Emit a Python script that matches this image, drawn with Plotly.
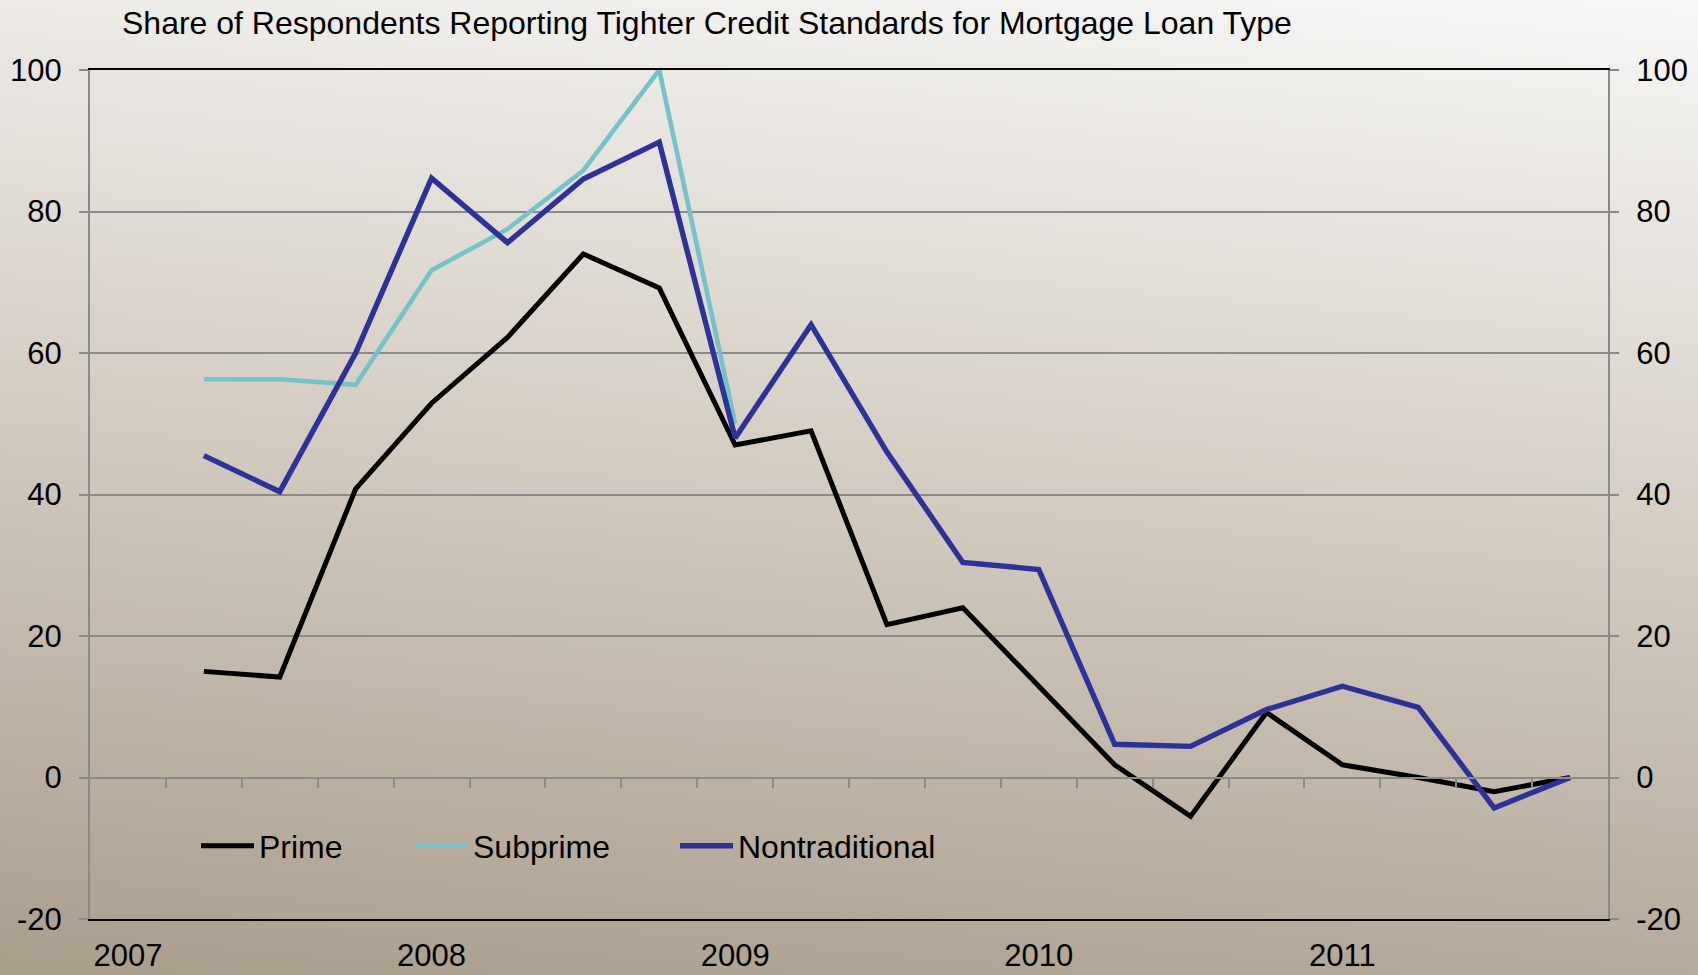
import base64
import plotly.graph_objects as go

# ---------------- data ----------------
quarters = ["2007Q1", "2007Q2", "2007Q3", "2007Q4",
            "2008Q1", "2008Q2", "2008Q3", "2008Q4",
            "2009Q1", "2009Q2", "2009Q3", "2009Q4",
            "2010Q1", "2010Q2", "2010Q3", "2010Q4",
            "2011Q1", "2011Q2", "2011Q3", "2011Q4"]
year_ticks = ["2007Q1", "2008Q1", "2009Q1", "2010Q1", "2011Q1"]
year_labels = ["2007", "2008", "2009", "2010", "2011"]

prime = [None, 15.0, 14.2, 40.8, 52.9, 62.2, 74.0, 69.2, 47.0, 49.0,
         21.6, 24.0, 12.9, 1.8, -5.5, 9.2, 1.8, 0.0, -2.0, 0.0]
subprime = [None, 56.3, 56.3, 55.5, 71.7, 77.5, 85.8, 100.0, 50.0, None,
            None, None, None, None, None, None, None, None, None, None]
nontraditional = [None, 45.5, 40.4, 60.0, 84.7, 75.6, 84.6, 89.8, 48.0, 64.0,
                  46.0, 30.4, 29.4, 4.7, 4.4, 9.6, 12.9, 9.9, -4.3, 0.0]

series_names = ["Prime", "Subprime", "Nontraditional"]
y_ticks = [-20, 0, 20, 40, 60, 80, 100]
y_tick_labels = ["-20", "0", "20", "40", "60", "80", "100"]

title_text = "Share of Respondents Reporting Tighter Credit Standards for Mortgage Loan Type"

# ---------------- styling ----------------
W, H = 1698, 975
ML, MR, MT, MB = 90, 90, 70, 56
FONT = "Liberation Sans, Arial, sans-serif"
FS = 32
FS_Y = 31
FS_X = 31
GRID = "#8a8a8a"
colors = ["#000000", "#74c3c9", "#2e3196"]
widths = [5.0, 4.6, 5.4]
ymin, ymax = -20, 100

# background gradient (light top-right -> taupe bottom-left)
svg = (
    f'<svg xmlns="http://www.w3.org/2000/svg" width="{W}" height="{H}" viewBox="0 0 {W} {H}" preserveAspectRatio="none">'
    f'<defs><linearGradient id="g" gradientUnits="userSpaceOnUse" x1="{W}" y1="0" x2="1595" y2="1121">'
    '<stop offset="0" stop-color="#f7f7f6"/><stop offset="0.5" stop-color="#d3cbc1"/>'
    '<stop offset="1" stop-color="#aa9d8c"/></linearGradient></defs>'
    f'<rect x="0" y="0" width="{W}" height="{H}" fill="url(#g)"/></svg>'
)
bg_src = "data:image/svg+xml;base64," + base64.b64encode(svg.encode()).decode()

pw = W - ML - MR
ph = H - MT - MB

fig = go.Figure()
legend_ids = ["legend", "legend2", "legend3"]
for name, vals, col, lw, lg in zip(series_names, [prime, subprime, nontraditional],
                                   colors, widths, legend_ids):
    fig.add_trace(go.Scatter(x=quarters, y=vals, name=name, mode="lines",
                             line=dict(color=col, width=lw), legend=lg,
                             connectgaps=False))

# invisible helper trace so that the secondary axes (zero-line ticks, right axis) exist
fig.add_trace(go.Scatter(x=list(range(len(quarters))), y=prime, xaxis="x2", yaxis="y2",
                         mode="lines", line=dict(width=0), opacity=0,
                         hoverinfo="skip", showlegend=False))

zero_pos = (0 - ymin) / (ymax - ymin)
boundaries = [i + 0.5 for i in range(len(quarters) - 1)]

fig.update_layout(
    width=W, height=H,
    margin=dict(l=ML, r=MR, t=MT, b=MB, pad=0, autoexpand=False),
    paper_bgcolor="#d3cbc1",
    plot_bgcolor="rgba(0,0,0,0)",
    font=dict(family=FONT, size=FS, color="#000000"),
    showlegend=True,
    title=dict(text=title_text, x=122 / W, xref="container", xanchor="left",
               y=1 - 23 / H, yref="container", yanchor="middle",
               font=dict(family=FONT, size=FS, color="#000000"),
               automargin=False),
    images=[dict(source=bg_src, xref="paper", yref="paper",
                 x=-ML / pw, y=1 + MT / ph, sizex=W / pw, sizey=H / ph,
                 xanchor="left", yanchor="top", sizing="stretch", layer="below")],
    xaxis=dict(type="category", categoryorder="array", categoryarray=quarters,
               range=[-0.5, len(quarters) - 0.5], automargin=False,
               tickmode="array", tickvals=year_ticks, ticktext=year_labels,
               ticks="", showgrid=False, zeroline=False,
               showline=True, linecolor="#000000", linewidth=2, mirror=True,
               tickfont=dict(family=FONT, size=FS_X, color="#000000"),
               ticklabelstandoff=8),
    xaxis2=dict(type="linear", overlaying="x", anchor="free", position=zero_pos,
                range=[-0.5, len(quarters) - 0.5], side="bottom", automargin=False,
                tickmode="array", tickvals=boundaries, ticks="outside",
                ticklen=9, tickwidth=2, tickcolor=GRID,
                showticklabels=False, showgrid=False, zeroline=False,
                showline=True, linecolor=GRID, linewidth=2),
    yaxis=dict(range=[ymin, ymax], tickmode="array", tickvals=y_ticks,
               ticktext=y_tick_labels, automargin=False,
               showgrid=True, gridcolor=GRID, gridwidth=2, zeroline=False,
               ticks="outside", ticklen=9, tickwidth=2, tickcolor=GRID,
               showline=True, linecolor=GRID, linewidth=2,
               tickfont=dict(family=FONT, size=FS_Y, color="#000000"),
               ticklabelstandoff=11),
    yaxis2=dict(range=[ymin, ymax], overlaying="y", side="right", anchor="x",
                tickmode="array", tickvals=y_ticks, ticktext=y_tick_labels,
                automargin=False, showgrid=False, zeroline=False,
                ticks="outside", ticklen=9, tickwidth=2, tickcolor=GRID,
                showline=True, linecolor=GRID, linewidth=2,
                tickfont=dict(family=FONT, size=FS_Y, color="#000000"),
                ticklabelstandoff=11),
)

leg_common = dict(orientation="h", bgcolor="rgba(0,0,0,0)", borderwidth=0,
                  font=dict(family=FONT, size=FS, color="#000000"),
                  itemwidth=53, xanchor="left", yanchor="middle",
                  y=(H - MB - 846) / ph)
fig.update_layout(
    legend=dict(x=(196 - ML) / pw, **leg_common),
    legend2=dict(x=(410 - ML) / pw, **leg_common),
    legend3=dict(x=(675 - ML) / pw, **leg_common),
)

fig.write_html("out.html")
